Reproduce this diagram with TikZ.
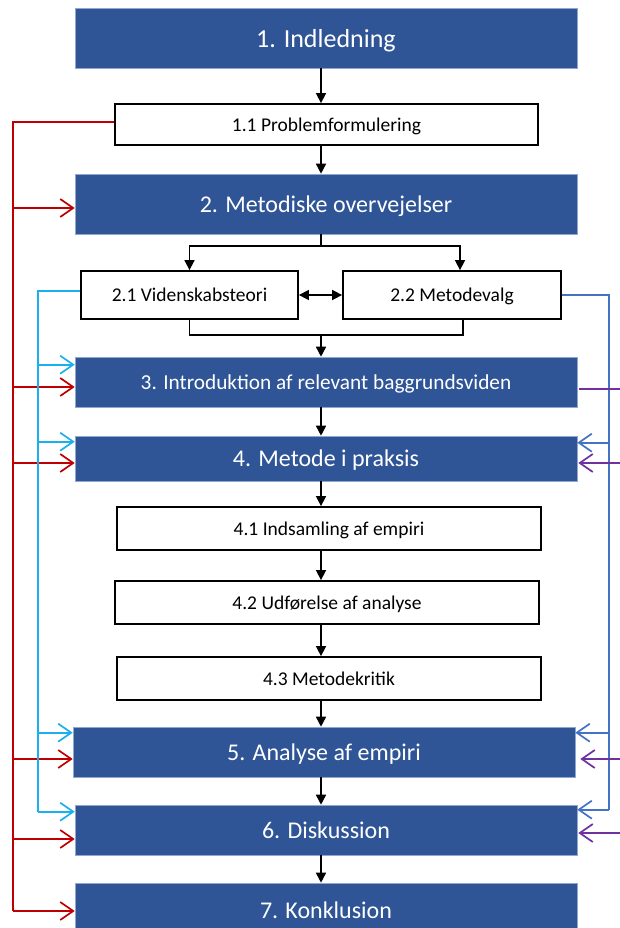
\documentclass[tikz,border=0pt]{standalone}
\usepackage{fontspec}
\setmainfont{Carlito}
\usetikzlibrary{arrows.meta,calc}
\definecolor{mblue}{HTML}{2F5597}
\definecolor{medge}{HTML}{8FA8D0}
\definecolor{cred}{HTML}{C00000}
\definecolor{ccyan}{HTML}{1AAFEF}
\definecolor{cblue}{HTML}{4472C4}
\definecolor{cpurp}{HTML}{7030A0}
\tikzset{
  mainbox/.style={draw=medge, line width=0.6pt, fill=mblue, text=white, minimum width=502pt, inner sep=0pt, text depth=0pt, font=\fontsize{24}{28}\selectfont},
  subbox/.style={draw=black, line width=1.8pt, fill=white, text=black, inner sep=0pt, text depth=0pt, minimum height=43pt, font=\fontsize{19.5}{23}\selectfont},
  plain/.style={draw=black, line width=1.6pt},
  blk/.style={plain, -{Triangle[length=10pt,width=10pt]}},
  blkboth/.style={plain, {Triangle[length=10pt,width=10pt]}-{Triangle[length=10pt,width=10pt]}},
  barb/.style={line width=1.7pt, -{Straight Barb[length=13pt,width=18pt,line width=1.7pt]}},
  redl/.style={barb, draw=cred},
  cyanl/.style={barb, draw=ccyan},
  bluel/.style={barb, draw=cblue},
  purpl/.style={barb, draw=cpurp},
}
\begin{document}
\begin{tikzpicture}[x=1pt,y=-1pt]
\useasboundingbox (0,0) rectangle (620,928);
\clip (0,0) rectangle (620,928);
\fill[white] (0,0) rectangle (620,928);

% boxes
\node[mainbox, minimum height=60pt, font=\fontsize{26}{30}\selectfont] (b1) at (326,38) {1. Indledning};
\node[subbox, minimum width=423pt, minimum height=41pt] (b11) at (326.5,124.5) {1.1 Problemformulering};
\node[mainbox, minimum height=60pt] (b2) at (326,204) {2. Metodiske overvejelser};
\node[subbox, minimum width=217pt, minimum height=48pt] (b21) at (189.5,295) {2.1 Videnskabsteori};
\node[subbox, minimum width=218pt, minimum height=48pt] (b22) at (452,295) {2.2 Metodevalg};
\node[mainbox, minimum height=50pt, font=\fontsize{21.3}{25}\selectfont] (b3) at (326,382) {3. Introduktion af relevant baggrundsviden};
\node[mainbox, minimum height=45pt] (b4) at (326,458.5) {4. Metode i praksis};
\node[subbox, minimum width=424pt] (b41) at (329,528.5) {4.1 Indsamling af empiri};
\node[subbox, minimum width=424pt] (b42) at (327,602.5) {4.2 Udførelse af analyse};
\node[subbox, minimum width=424pt] (b43) at (329,678.5) {4.3 Metodekritik};
\node[mainbox, minimum height=50pt] (b5) at (324,752) {5. Analyse af empiri};
\node[mainbox, minimum height=50pt] (b6) at (326,830) {6. Diskussion};
\node[mainbox, minimum height=54pt] (b7) at (326,910) {7. Konklusion};

% black connectors
\coordinate (ax) at (321,0);
\draw[blk] (b1.south -| ax) -- (b11.north -| ax);
\draw[blk] (b11.south -| ax) -- (b2.north -| ax);
\coordinate (sp) at (321,246);
\draw[plain] (b2.south -| sp) -- (sp);
\draw[blk] (sp) -| (b21.north);
\draw[blk] (sp) -| ([xshift=8pt]b22.north);
\draw[blkboth] (b21.east) -- (b22.west);
\coordinate (mg) at (321,335);
\draw[plain] (b21.south) |- (mg) -| ([xshift=11pt]b22.south);
\draw[blk] (mg) -- (b3.north -| mg);
\draw[blk] (b3.south -| ax) -- (b4.north -| ax);
\draw[blk] (b4.south -| ax) -- (b41.north -| ax);
\draw[blk] (b41.south -| ax) -- (b42.north -| ax);
\draw[blk] (b42.south -| ax) -- (b43.north -| ax);
\draw[blk] (b43.south -| ax) -- (b5.north -| ax);
\draw[blk] (b5.south -| ax) -- (b6.north -| ax);
\draw[blk] (b6.south -| ax) -- (b7.north -| ax);

% target coordinates
\coordinate (r0) at ([yshift=2.5pt]b11.west);
\coordinate (r2) at ([yshift=-4pt]b2.west);
\coordinate (r3) at ([yshift=-5pt]b3.west);
\coordinate (r4) at ([yshift=-4.5pt]b4.west);
\coordinate (r5) at ([yshift=-7pt]b5.west);
\coordinate (r6) at ([yshift=-9pt]b6.west);
\coordinate (r7) at ([yshift=-1pt]b7.west);
\coordinate (c0) at ([yshift=4pt]b21.west);
\coordinate (c3) at ([yshift=-8pt]b3.north west);
\coordinate (c4) at ([yshift=-6pt]b4.north west);
\coordinate (c5) at ([yshift=-6pt]b5.north west);
\coordinate (c6) at ([yshift=-7pt]b6.north west);
\coordinate (u4) at ([yshift=-7pt]b4.north east);
\coordinate (u5) at ([yshift=-6pt]b5.north east);
\coordinate (u6) at ([yshift=-5pt]b6.north east);
\coordinate (p3) at ([xshift=2pt,yshift=-7pt]b3.east);
\coordinate (p4) at ([xshift=1pt,yshift=-4.5pt]b4.east);
\coordinate (p5) at ([xshift=5pt,yshift=-7pt]b5.east);
\coordinate (p6) at ([xshift=1pt,yshift=-3pt]b6.east);

% red feedback
\coordinate (rl) at (13,0);
\draw[cred, line width=1.7pt] (r0) -- (rl |- r0) -- (rl |- r7);
\draw[redl] (rl |- r2) -- (r2);
\draw[redl] (rl |- r3) -- (r3);
\draw[redl] (rl |- r4) -- (r4);
\draw[redl] (rl |- r5) -- (r5);
\draw[redl] (rl |- r6) -- (r6);
\draw[redl] (rl |- r7) -- (r7);

% cyan feedback
\coordinate (cl) at (38,0);
\draw[ccyan, line width=1.7pt] (c0) -- (cl |- c0) -- (cl |- c6);
\draw[cyanl] (cl |- c3) -- (c3);
\draw[cyanl] (cl |- c4) -- (c4);
\draw[cyanl] (cl |- c5) -- (c5);
\draw[cyanl] (cl |- c6) -- (c6);

% blue feedback (right)
\coordinate (bl) at (609,0);
\draw[cblue, line width=1.7pt] (b22.east) -- (bl |- b22.east) -- (bl |- u6);
\draw[bluel] (bl |- u4) -- (u4);
\draw[bluel] (bl |- u5) -- (u5);
\draw[bluel] (bl |- u6) -- (u6);

% purple (from right edge)
\coordinate (pl) at (625,0);
\draw[cpurp, line width=1.7pt] (pl |- p3) -- (p3);
\draw[purpl] (pl |- p4) -- (p4);
\draw[purpl] (pl |- p5) -- (p5);
\draw[purpl] (pl |- p6) -- (p6);
\end{tikzpicture}
\end{document}
